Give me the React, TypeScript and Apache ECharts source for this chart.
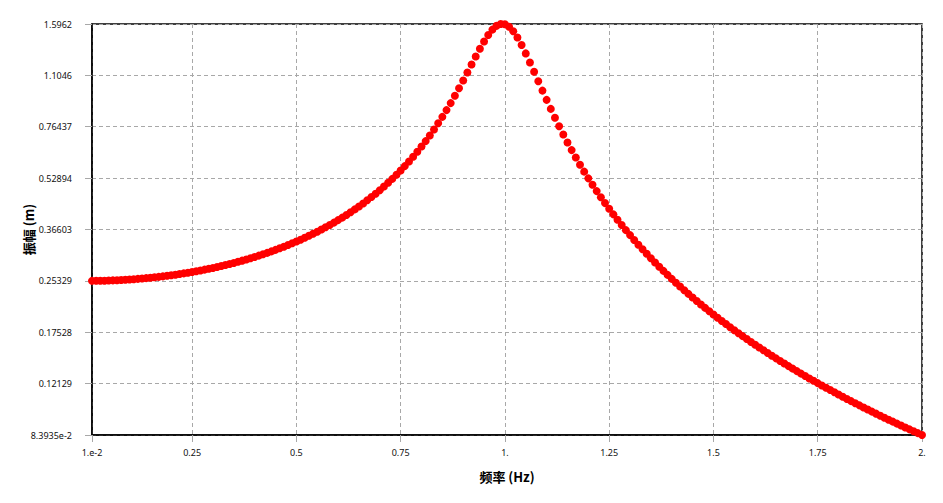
import React, { useEffect, useRef } from "react";
import * as echarts from "echarts";

const freq: number[] = [
  0.01, 0.02, 0.03, 0.04, 0.05, 0.06, 0.07, 0.08, 0.09, 0.1,
  0.11, 0.12, 0.13, 0.14, 0.15, 0.16, 0.17, 0.18, 0.19, 0.2,
  0.21, 0.22, 0.23, 0.24, 0.25, 0.26, 0.27, 0.28, 0.29, 0.3,
  0.31, 0.32, 0.33, 0.34, 0.35, 0.36, 0.37, 0.38, 0.39, 0.4,
  0.41, 0.42, 0.43, 0.44, 0.45, 0.46, 0.47, 0.48, 0.49, 0.5,
  0.51, 0.52, 0.53, 0.54, 0.55, 0.56, 0.57, 0.58, 0.59, 0.6,
  0.61, 0.62, 0.63, 0.64, 0.65, 0.66, 0.67, 0.68, 0.69, 0.7,
  0.71, 0.72, 0.73, 0.74, 0.75, 0.76, 0.77, 0.78, 0.79, 0.8,
  0.81, 0.82, 0.83, 0.84, 0.85, 0.86, 0.87, 0.88, 0.89, 0.9,
  0.91, 0.92, 0.93, 0.94, 0.95, 0.96, 0.97, 0.98, 0.99, 1.0,
  1.01, 1.02, 1.03, 1.04, 1.05, 1.06, 1.07, 1.08, 1.09, 1.1,
  1.11, 1.12, 1.13, 1.14, 1.15, 1.16, 1.17, 1.18, 1.19, 1.2,
  1.21, 1.22, 1.23, 1.24, 1.25, 1.26, 1.27, 1.28, 1.29, 1.3,
  1.31, 1.32, 1.33, 1.34, 1.35, 1.36, 1.37, 1.38, 1.39, 1.4,
  1.41, 1.42, 1.43, 1.44, 1.45, 1.46, 1.47, 1.48, 1.49, 1.5,
  1.51, 1.52, 1.53, 1.54, 1.55, 1.56, 1.57, 1.58, 1.59, 1.6,
  1.61, 1.62, 1.63, 1.64, 1.65, 1.66, 1.67, 1.68, 1.69, 1.7,
  1.71, 1.72, 1.73, 1.74, 1.75, 1.76, 1.77, 1.78, 1.79, 1.8,
  1.81, 1.82, 1.83, 1.84, 1.85, 1.86, 1.87, 1.88, 1.89, 1.9,
  1.91, 1.92, 1.93, 1.94, 1.95, 1.96, 1.97, 1.98, 1.99, 2.0,
];

const amplitude: number[] = [
  0.2533, 0.25337, 0.2535, 0.25367, 0.2539, 0.25418, 0.2545, 0.25488, 0.25531, 0.25579,
  0.25633, 0.25692, 0.25757, 0.25827, 0.25902, 0.25984, 0.2607, 0.26163, 0.26263, 0.26368,
  0.2648, 0.26597, 0.26722, 0.26853, 0.26991, 0.27137, 0.2729, 0.2745, 0.27618, 0.27794,
  0.27978, 0.28171, 0.28373, 0.28584, 0.28805, 0.29036, 0.29277, 0.29528, 0.29791, 0.30065,
  0.30352, 0.30651, 0.30964, 0.3129, 0.31631, 0.31988, 0.3236, 0.32749, 0.33156, 0.33582,
  0.34027, 0.34493, 0.34981, 0.35493, 0.36029, 0.36592, 0.37183, 0.37803, 0.38455, 0.39141,
  0.39863, 0.40625, 0.41427, 0.42274, 0.4317, 0.44119, 0.45122, 0.46187, 0.47317, 0.48519,
  0.49799, 0.51163, 0.52622, 0.54182, 0.55853, 0.57648, 0.59578, 0.61657, 0.63904, 0.66334,
  0.68968, 0.71831, 0.74948, 0.78344, 0.82055, 0.86112, 0.90551, 0.95405, 1.00708, 1.06479,
  1.1272, 1.19405, 1.26451, 1.33695, 1.40877, 1.47593, 1.53348, 1.57536, 1.5962, 1.59289,
  1.56494, 1.51538, 1.44952, 1.37348, 1.29285, 1.21182, 1.13335, 1.05918, 0.99023, 0.92671,
  0.86862, 0.8156, 0.7673, 0.7233, 0.68316, 0.64653, 0.61301, 0.5823, 0.55408, 0.52811,
  0.50412, 0.48195, 0.4614, 0.44231, 0.42454, 0.40796, 0.39248, 0.37799, 0.36439, 0.35162,
  0.33961, 0.32828, 0.3176, 0.3075, 0.29795, 0.2889, 0.28031, 0.27215, 0.2644, 0.257,
  0.24997, 0.24325, 0.23685, 0.23072, 0.22486, 0.21925, 0.21388, 0.20872, 0.20378, 0.19903,
  0.19446, 0.19007, 0.18585, 0.18178, 0.17786, 0.17408, 0.17044, 0.16692, 0.16352, 0.16024,
  0.15706, 0.15399, 0.15102, 0.14815, 0.14536, 0.14266, 0.14005, 0.13751, 0.13505, 0.13266,
  0.13033, 0.12808, 0.12589, 0.12376, 0.1217, 0.11968, 0.11772, 0.11582, 0.11396, 0.11216,
  0.1104, 0.10868, 0.10701, 0.10538, 0.10379, 0.10224, 0.10072, 0.099245, 0.097803, 0.096395,
  0.095019, 0.093676, 0.092363, 0.09108, 0.089825, 0.088598, 0.087399, 0.086226, 0.085078, 0.083935,
];

const xTickValues: number[] = [0.01, 0.25, 0.5, 0.75, 1.0, 1.25, 1.5, 1.75, 2.0];
const xTickLabels: string[] = ["1.e-2", "0.25", "0.5", "0.75", "1.", "1.25", "1.5", "1.75", "2."];

const yTickValues: number[] = [0.083935, 0.12129, 0.17528, 0.25329, 0.36603, 0.52894, 0.76437, 1.1046, 1.5962];
const yTickLabels: string[] = ["8.3935e-2", "0.12129", "0.17528", "0.25329", "0.36603", "0.52894", "0.76437", "1.1046", "1.5962"];

const xName = "频率 (Hz)";
const yName = "振幅 (m)";

function nearestLabel(v: number, values: number[], labels: string[], log: boolean): string {
  let best = 0;
  let bestD = Infinity;
  for (let i = 0; i < values.length; i++) {
    const d = log ? Math.abs(Math.log(v) - Math.log(values[i])) : Math.abs(v - values[i]);
    if (d < bestD) {
      bestD = d;
      best = i;
    }
  }
  return labels[best];
}

const FONT = "'Noto Sans', 'Open Sans', sans-serif";
const CJK = "'Noto Sans CJK SC', 'Noto Sans', sans-serif";

export default function App() {
  const ref = useRef<HTMLDivElement>(null);

  useEffect(() => {
    if (!ref.current) return;
    const chart = echarts.init(ref.current, undefined, { renderer: "svg" });
    const splitLine = {
      show: true,
      lineStyle: { color: "#a8a8a8", type: [4, 3] as any, width: 1 },
    };
    chart.setOption({
      animation: false,
      backgroundColor: "#ffffff",
      grid: {
        left: 92,
        right: 21,
        top: 24,
        bottom: 68,
        show: true,
        borderColor: "#000000",
        borderWidth: 1.5,
        backgroundColor: "transparent",
      },
      xAxis: {
        type: "value",
        min: 0.01,
        max: 2,
        name: xName,
        nameLocation: "middle",
        nameGap: 35,
        nameTextStyle: { fontFamily: CJK, fontSize: 13, fontWeight: "bold", color: "#000" },
        axisLine: { show: true, lineStyle: { color: "#000", width: 1.5 } },
        axisTick: {
          show: true,
          customValues: xTickValues,
          length: 7,
          inside: false,
          lineStyle: { color: "#a8a8a8", width: 1 },
        },
        axisLabel: {
          customValues: xTickValues,
          formatter: (v: number) => nearestLabel(v, xTickValues, xTickLabels, false),
          fontFamily: FONT,
          fontSize: 9,
          color: "#111",
          margin: 13,
        },
        splitLine,
      },
      yAxis: {
        type: "log",
        logBase: 10,
        min: yTickValues[0],
        max: yTickValues[yTickValues.length - 1],
        name: yName,
        nameLocation: "middle",
        nameRotate: 90,
        nameGap: 57,
        nameMoveOverlap: false,
        nameTextStyle: { fontFamily: CJK, fontSize: 13, fontWeight: "bold", color: "#000" },
        axisLine: { show: true, lineStyle: { color: "#000", width: 1.5 } },
        axisTick: {
          show: true,
          customValues: yTickValues,
          length: 7,
          inside: false,
          lineStyle: { color: "#a8a8a8", width: 1 },
        },
        axisLabel: {
          customValues: yTickValues,
          formatter: (v: number) => nearestLabel(v, yTickValues, yTickLabels, true),
          fontFamily: FONT,
          fontSize: 9,
          color: "#111",
          margin: 20,
          padding: [5, 0, 0, 0],
        },
        splitLine,
      },
      series: [
        {
          type: "scatter",
          data: freq.map((f, i) => [f, amplitude[i]]),
          symbol: "circle",
          symbolSize: 8,
          clip: false,
          itemStyle: { color: "#ff0000", opacity: 1 },
        },
      ],
    });
    return () => chart.dispose();
  }, []);

  return (
    <div
      ref={ref}
      style={{ position: "absolute", left: 0, top: 0, width: 943, height: 503, background: "#fff" }}
    />
  );
}
